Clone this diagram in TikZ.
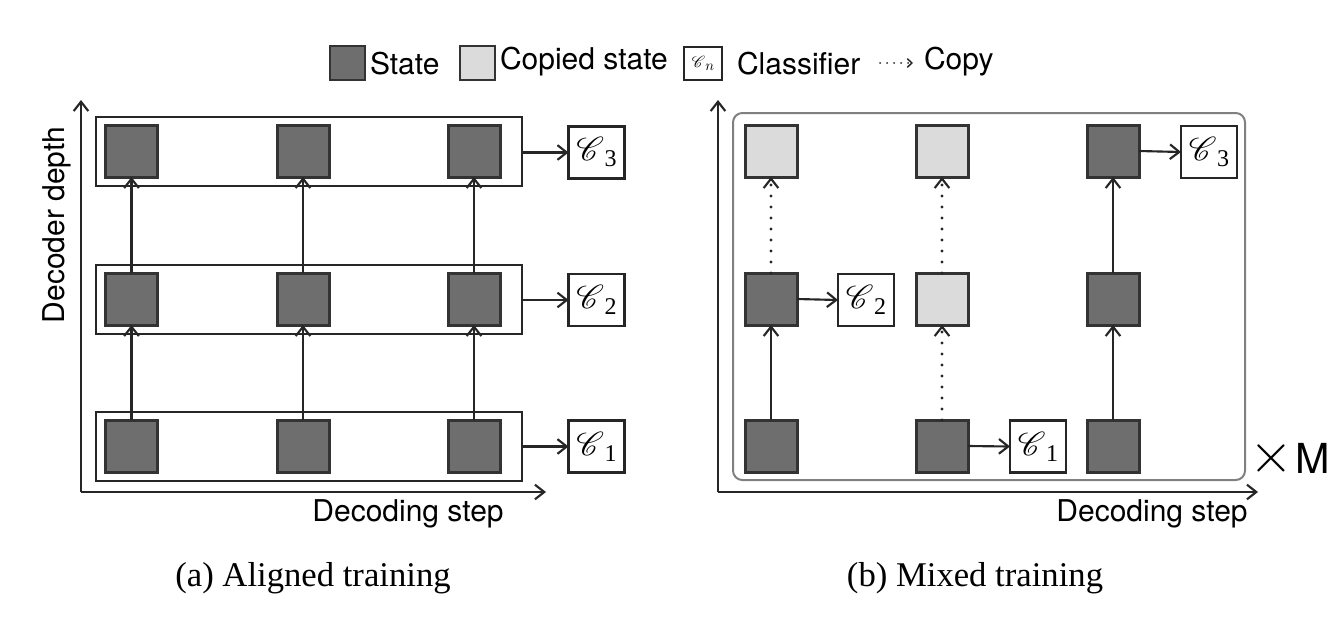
\documentclass[tikz,border=0pt]{standalone}
\usepackage{fontspec}
\setmainfont{Liberation Serif}
\setsansfont{TeX Gyre Heros}
\usepackage{mathrsfs}
\usetikzlibrary{arrows.meta}
\newcommand{\clfC}[1]{\fontsize{23}{24}\selectfont$\mathscr{C}$\kern0.3pt\raisebox{-4.5pt}{\fontsize{18}{20}\selectfont #1}}
\tikzset{
  every node/.style={inner sep=0pt, outer sep=0pt},
  stbase/.style={draw=black!80, line width=2.25pt, minimum width=39pt, minimum height=39pt},
  dark/.style={stbase, fill=black!57},
  light/.style={stbase, fill=black!14},
  rowbox/.style={draw=black!85, line width=1.5pt, minimum width=319.5pt, minimum height=51.75pt},
  clf/.style={draw=black!85, line width=1.6pt, fill=white, minimum width=42pt, minimum height=39pt},
  arr/.style={line width=1.6pt, draw=black!85, -{Straight Barb[length=7pt,width=11pt,line width=1.6pt]}},
  dotarr/.style={line width=2.3pt, draw=black!85, line cap=round, dash pattern=on 0pt off 8.25pt, -{Straight Barb[length=7pt,width=11pt,line width=1.6pt]}},
  axis/.style={line width=1.6pt, draw=black!85, -{Straight Barb[length=7pt,width=11pt,line width=1.6pt]}},
  sans/.style={font=\sffamily\fontsize{22.5}{26}\selectfont},
  captext/.style={font=\fontsize{26}{30}\selectfont},
}
\begin{document}
\begin{tikzpicture}[x=0.75pt,y=-0.75pt]
\useasboundingbox (0,0) rectangle (1338,618);

% ---------- legend ----------
\node[dark, minimum width=26.25pt, minimum height=25.5pt, line width=1.5pt] (lgs) at (347.5,63) {};
\node[sans, anchor=west] (lgst) at (370,64) {State};
\node[light, minimum width=26.25pt, minimum height=25.5pt, line width=1.5pt] (lgc) at (477.5,63) {};
\node[sans, anchor=west] (lgct) at (500,62) {Copied state};
\node[clf, minimum width=28.5pt, minimum height=24.75pt, line width=1.1pt] (lgk) at (703,63.5) {\fontsize{13}{14}\selectfont$\mathscr{C}$\kern0.2pt\raisebox{-2pt}{\fontsize{11}{12}\selectfont$n$}};
\node[sans, anchor=west] (lgkt) at (737,64) {Classifier};
\coordinate (lgd1) at (880,63);
\coordinate (lgd2) at (913,63);
\draw[line width=1.5pt, draw=black!85, line cap=round, dash pattern=on 0pt off 5.25pt, -{Straight Barb[length=3.5pt,width=6.5pt,line width=1.1pt]}] (lgd1) -- (lgd2);
\node[sans, anchor=west] (lgdt) at (924,62) {Copy};

% ---------- (a) aligned training ----------
\coordinate (ao) at (81,492);
\coordinate (ay) at (81,100);
\coordinate (ax) at (546,492);
\draw[axis] (ao) -- (ay);
\draw[axis] (ao) -- (ax);
\node[sans, rotate=90] (ady) at (57,225) {Decoder depth};
\node[sans] (ads) at (408,514) {Decoding step};

\node[rowbox] (r3) at (309,151.5) {};
\node[rowbox] (r2) at (309,299) {};
\node[rowbox] (r1) at (309,446.5) {};

\foreach \c/\x in {1/131.5,2/303,3/474}{
  \node[dark] (a\c3) at (\x,151) {};
  \node[dark] (a\c2) at (\x,299) {};
  \node[dark] (a\c1) at (\x,446) {};
  \draw[arr] (a\c1.north) -- (a\c2.south);
  \draw[arr] (a\c2.north) -- (a\c3.south);
}
\node[clf] (ac3) at (596.5,152.5) {\clfC{3}};
\node[clf] (ac2) at (596.5,300) {\clfC{2}};
\node[clf] (ac1) at (596.5,446.5) {\clfC{1}};
\draw[arr] (r3.east |- ac3) -- (ac3.west);
\draw[arr] (r2.east |- ac2) -- (ac2.west);
\draw[arr] (r1.east |- ac1) -- (ac1.west);

\node[captext] (capa) at (313,578) {(a) Aligned training};

% ---------- (b) mixed training ----------
\coordinate (bo) at (718,492);
\coordinate (by) at (718,100);
\coordinate (bx) at (1258,492);
\draw[axis] (bo) -- (by);
\draw[axis] (bo) -- (bx);
\node[sans] (bds) at (1152,514) {Decoding step};

\node[draw=black!50, line width=1.5pt, rounded corners=7pt, minimum width=384pt, minimum height=275.25pt] (mbox) at (989,296.5) {};

\node[light] (b13) at (771,151) {};
\node[dark]  (b12) at (771,299) {};
\node[dark]  (b11) at (771,446) {};
\node[light] (b23) at (942,151) {};
\node[light] (b22) at (942,299) {};
\node[dark]  (b21) at (942,446) {};
\node[dark]  (b33) at (1113,151) {};
\node[dark]  (b32) at (1113,299) {};
\node[dark]  (b31) at (1113,446) {};

\draw[arr] (b11.north) -- (b12.south);
\draw[dotarr] (b12.north) -- (b13.south);
\draw[dotarr] (b21.north) -- (b22.south);
\draw[dotarr] (b22.north) -- (b23.south);
\draw[arr] (b31.north) -- (b32.south);
\draw[arr] (b32.north) -- (b33.south);

\node[clf] (bc2) at (866,300) {\clfC{2}};
\node[clf] (bc1) at (1038,446.5) {\clfC{1}};
\node[clf] (bc3) at (1209,152) {\clfC{3}};
\draw[arr] (b12.east) -- (bc2.west);
\draw[arr] (b21.east) -- (bc1.west);
\draw[arr] (b33.east) -- (bc3.west);

\node[font=\sffamily\fontsize{31}{34}\selectfont, anchor=west] (bm) at (1249,458) {\raisebox{1pt}{\scalebox{1.7}{$\times$}}\kern2pt M};

\node[captext] (capb) at (975,578) {(b) Mixed training};
\end{tikzpicture}
\end{document}
